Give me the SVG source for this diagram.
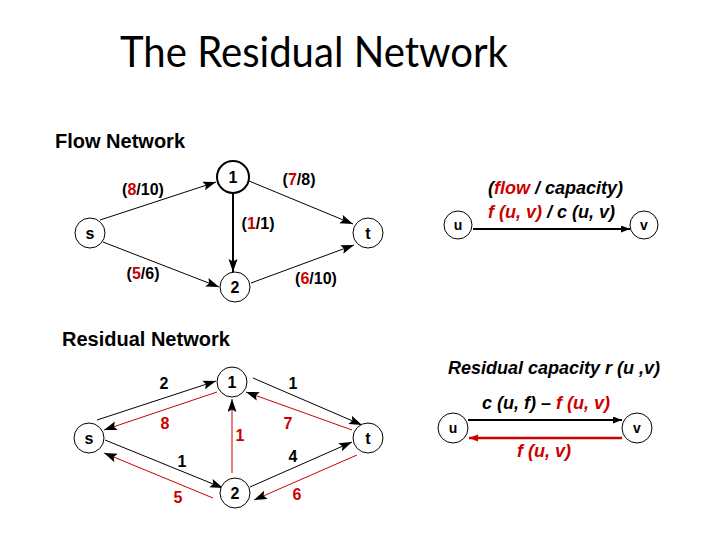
<svg xmlns="http://www.w3.org/2000/svg" width="720" height="540" viewBox="0 0 720 540">
<style>
.title{font-family:Lato,"Open Sans","Liberation Sans",sans-serif;font-size:42px;fill:#000}
.head{font-family:"Liberation Sans",Arial,sans-serif;font-size:20px;font-weight:bold;fill:#000}
.lbl{font-family:"Liberation Sans",Arial,sans-serif;font-size:16px;font-weight:bold;fill:#000;text-anchor:middle}
.nl{font-family:"Liberation Sans",Arial,sans-serif;font-size:16px;font-weight:bold;fill:#000;text-anchor:middle}
.nls{font-family:"Liberation Sans",Arial,sans-serif;font-size:14px;font-weight:bold;fill:#000;text-anchor:middle}
.it{font-family:"Liberation Sans",Arial,sans-serif;font-size:18px;font-weight:bold;font-style:italic;fill:#000}
.r{fill:#cc0000}
.node{fill:#fff;stroke:#000;stroke-width:1}
.e{stroke:#000;stroke-width:1;fill:none;marker-end:url(#ah)}
.er{stroke:#cc0000;stroke-width:1;fill:none;marker-end:url(#ah)}
</style>
<defs>
<marker id="ah" markerUnits="userSpaceOnUse" markerWidth="14" markerHeight="10" refX="13" refY="4.5" orient="auto">
<path d="M0,0 L13,4.5 L0,9 L2.5,4.5 z" fill="#000"/>
</marker>
<marker id="ahr" markerUnits="userSpaceOnUse" markerWidth="10" markerHeight="8" refX="9" refY="3.5" orient="auto">
<path d="M0,0 L9,3.5 L0,7 z" fill="#cc0000"/>
</marker>
<marker id="ahs" markerUnits="userSpaceOnUse" markerWidth="10" markerHeight="8" refX="9" refY="3.5" orient="auto">
<path d="M0,0 L9,3.5 L0,7 z" fill="#000"/>
</marker>
</defs>
<rect width="720" height="540" fill="#fff"/>

<text class="title" x="120" y="67" textLength="388" lengthAdjust="spacingAndGlyphs">The Residual Network</text>
<text class="head" x="55" y="148">Flow Network</text>
<text class="head" x="62" y="346">Residual Network</text>

<!-- Flow network connectors -->
<g id="flow-edges">
<line class="e" x1="100" y1="220" x2="216" y2="182"/>
<line class="e" x1="249" y1="181" x2="353" y2="224"/>
<line class="e" x1="233" y1="194" x2="233" y2="272" style="stroke-width:2"/>
<line class="e" x1="103" y1="242" x2="219" y2="287"/>
<line class="e" x1="251" y1="283" x2="354" y2="245"/>
<text class="lbl" x="143" y="195">(<tspan class="r">8</tspan>/10)</text>
<text class="lbl" x="299" y="185">(<tspan class="r">7</tspan>/8)</text>
<text class="lbl" x="258" y="228.5">(<tspan class="r">1</tspan>/1)</text>
<text class="lbl" x="143" y="278.5">(<tspan class="r">5</tspan>/6)</text>
<text class="lbl" x="316" y="283.5">(<tspan class="r">6</tspan>/10)</text>
</g>
<g id="f-s"><circle class="node" cx="90" cy="233" r="15"/><text class="nl" x="90" y="238.5">s</text></g>
<g id="f-1"><circle class="node" cx="233" cy="177" r="16" style="stroke-width:2"/><text class="nl" x="233" y="183">1</text></g>
<g id="f-2"><circle class="node" cx="235" cy="287" r="15"/><text class="nl" x="235" y="293">2</text></g>
<g id="f-t"><circle class="node" cx="368" cy="233" r="15"/><text class="nl" x="368" y="239">t</text></g>

<!-- Flow legend -->
<g id="legend-flow-edge">
<line x1="473" y1="229" x2="630" y2="229" stroke="#000" stroke-width="2" marker-end="url(#ahs)"/>
<text class="it" x="488" y="193.5">(<tspan class="r">flow</tspan> / capacity)</text>
<text class="it" x="488" y="218"><tspan class="r">f (u, v)</tspan> / c (u, v)</text>
</g>
<g id="lf-u"><circle class="node" cx="458" cy="225" r="14"/><text class="nls" x="458" y="230">u</text></g>
<g id="lf-v"><circle class="node" cx="644" cy="225" r="14"/><text class="nls" x="644" y="230">v</text></g>

<!-- Residual network connectors -->
<g id="res-edges">
<line class="e" x1="97" y1="420" x2="216" y2="381"/>
<line class="er" x1="217" y1="392" x2="104" y2="430"/>
<line class="e" x1="253" y1="378" x2="362" y2="425"/>
<line class="er" x1="352" y1="430" x2="246" y2="392"/>
<line class="er" x1="232" y1="473" x2="232" y2="399"/>
<line class="e" x1="105" y1="440" x2="223" y2="488"/>
<line class="er" x1="213" y1="498" x2="104" y2="453"/>
<line class="e" x1="250" y1="487" x2="352" y2="442"/>
<line class="er" x1="357" y1="455" x2="254" y2="500"/>
<text class="lbl" x="164" y="389">2</text>
<text class="lbl" x="293" y="389">1</text>
<text class="lbl r" x="165" y="429">8</text>
<text class="lbl r" x="288" y="429">7</text>
<text class="lbl r" x="240" y="441">1</text>
<text class="lbl" x="182" y="467">1</text>
<text class="lbl" x="293" y="462">4</text>
<text class="lbl r" x="178" y="503">5</text>
<text class="lbl r" x="297" y="500">6</text>
</g>
<g id="r-s"><circle class="node" cx="89" cy="438" r="15"/><text class="nl" x="89" y="443.5">s</text></g>
<g id="r-1"><circle class="node" cx="232" cy="382" r="15"/><text class="nl" x="232" y="388">1</text></g>
<g id="r-2"><circle class="node" cx="235" cy="493" r="15"/><text class="nl" x="235" y="499">2</text></g>
<g id="r-t"><circle class="node" cx="368" cy="438" r="15"/><text class="nl" x="368" y="444">t</text></g>

<!-- Residual legend -->
<g id="legend-res-edges">
<text class="it" x="448" y="373.5">Residual capacity r (u ,v)</text>
<line x1="468" y1="420" x2="622" y2="420" stroke="#000" stroke-width="2" marker-end="url(#ahs)"/>
<line x1="622" y1="438" x2="469" y2="438" stroke="#cc0000" stroke-width="2.5" marker-end="url(#ahr)"/>
<text class="it" x="482" y="408.5">c (u, f) – <tspan class="r">f (u, v)</tspan></text>
<text class="it r" x="517" y="456.5">f (u, v)</text>
</g>
<g id="lr-u"><circle class="node" cx="453" cy="428" r="15"/><text class="nls" x="453" y="433">u</text></g>
<g id="lr-v"><circle class="node" cx="637" cy="428" r="15"/><text class="nls" x="637" y="433">v</text></g>
</svg>
